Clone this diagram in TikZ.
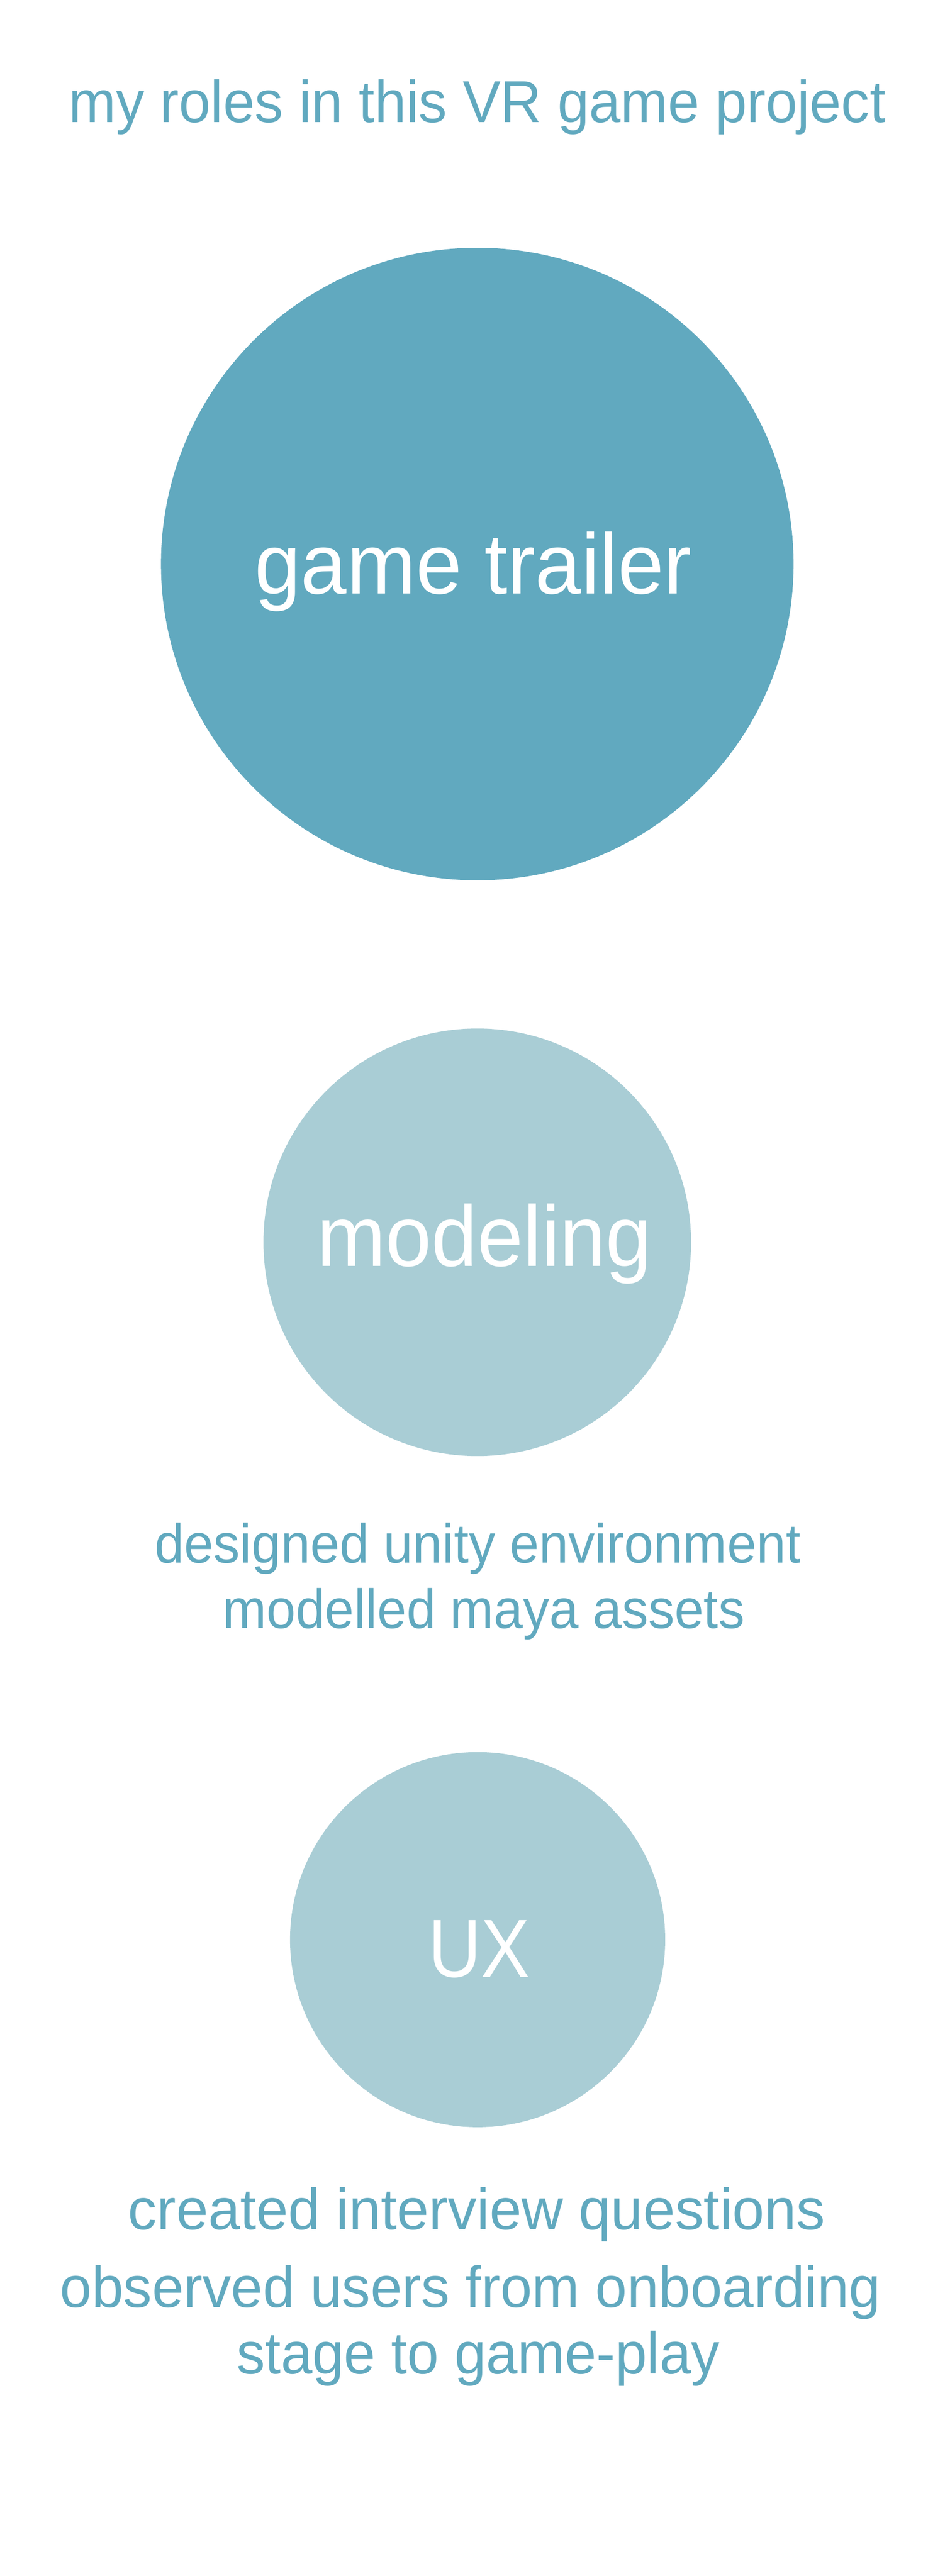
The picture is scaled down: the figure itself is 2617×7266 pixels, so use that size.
\documentclass[tikz,border=0pt]{standalone}
\usepackage{fontspec}
\setmainfont{Liberation Sans}
\usepackage{graphicx}
\definecolor{darkteal}{RGB}{97,169,191}
\definecolor{lightteal}{RGB}{169,205,213}
\tikzset{
  disc/.style={circle, inner sep=0pt, draw=none},
  lbl/.style={anchor=base, inner sep=0pt, outer sep=0pt},
  dark/.style={lbl, text=darkteal},
  light/.style={lbl, text=white}
}
\begin{document}
\begin{tikzpicture}[x=0.25pt,y=-0.25pt]
\useasboundingbox[fill=white] (0,0) rectangle (2617,7266);
% circles
\node[disc, fill=darkteal, minimum size=446pt] (c1) at (1346,1591) {};
\node[disc, fill=lightteal, minimum size=301.5pt] (c2) at (1346,3504) {};
\node[disc, fill=lightteal, minimum size=264.5pt] (c3) at (1347,5471) {};
% texts
\node[dark] (title) at (1346,345) {\resizebox{576pt}{30.25pt}{my roles in this VR game project}};
\node[light] (t1) at (1335,1675) {\resizebox{308pt}{43.75pt}{game trailer}};
\node[light] (t2) at (1366,3571) {\resizebox{236pt}{44pt}{modeling}};
\node[light] (t3) at (1351.5,5577) {\resizebox{71.75pt}{40pt}{UX}};
\node[dark] (d1) at (1347.5,4408) {\resizebox{455.25pt}{28.25pt}{designed unity environment}};
\node[dark] (d2) at (1364.5,4593) {\resizebox{367.75pt}{28.25pt}{modelled maya assets}};
\node[dark] (u1) at (1345,6288) {\resizebox{491.5pt}{29.75pt}{created interview questions}};
\node[dark] (u2) at (1327,6508) {\resizebox{578.5pt}{29.75pt}{observed users from onboarding}};
\node[dark] (u3) at (1349,6695) {\resizebox{340.5pt}{30.25pt}{stage to game-play}};
\end{tikzpicture}
\end{document}
